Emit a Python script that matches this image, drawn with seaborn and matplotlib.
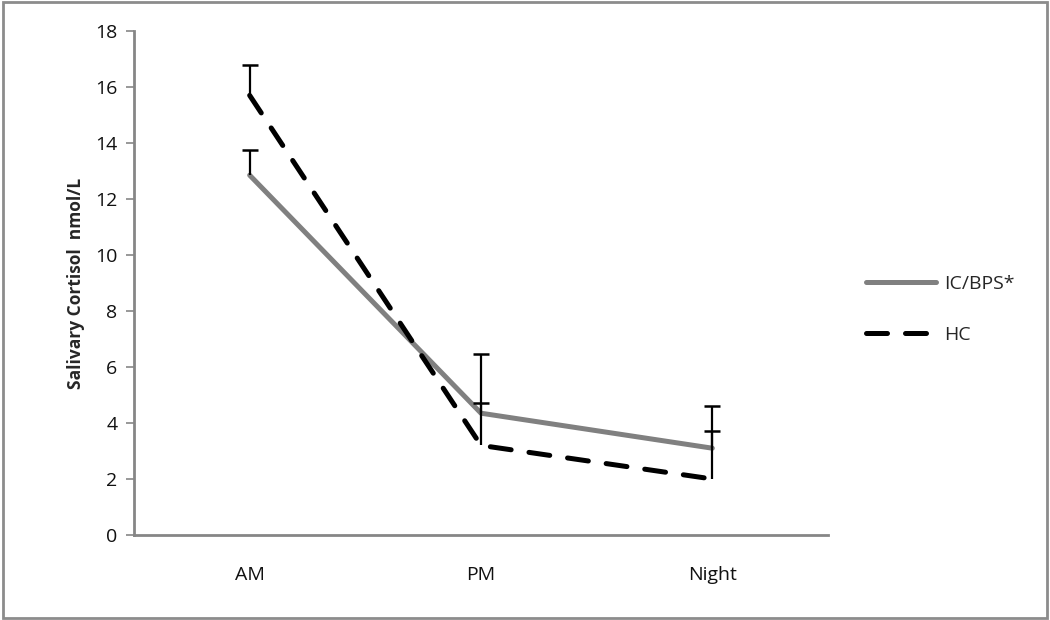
import numpy as np
import pandas as pd
import matplotlib.pyplot as plt
import seaborn as sns
from matplotlib.patches import Rectangle

# ------------------------------------------------------------
# Data
# ------------------------------------------------------------
times = ['AM', 'PM', 'Night']
ic_mean = [12.85, 4.35, 3.1]
ic_err = [0.9, 0.35, 0.6]
hc_mean = [15.7, 3.2, 2.0]
hc_err = [1.1, 3.25, 2.6]

sns.set_theme(style='white')
plt.rcParams['font.family'] = ['Open Sans', 'DejaVu Sans']

df = pd.DataFrame({
    'time': times * 2,
    'cortisol': ic_mean + hc_mean,
    'group': ['IC/BPS*'] * 3 + ['HC'] * 3,
})

fig = plt.figure(figsize=(10.5, 6.2), dpi=100)
ax = fig.add_axes([134 / 1050, 1 - 535 / 620, (828 - 134) / 1050, (535 - 31) / 620])

sns.lineplot(
    data=df, x='time', y='cortisol', hue='group', style='group',
    palette={'IC/BPS*': '#808080', 'HC': 'black'},
    dashes={'IC/BPS*': '', 'HC': (4.2, 3.6)},
    linewidth=3.6, ax=ax, sort=False,
)
for ln in ax.get_lines():
    ln.set_dash_capstyle('round')

# upper-only error bars (cap at the top only)
xpos = np.arange(len(times))
for mean, err in [(ic_mean, ic_err), (hc_mean, hc_err)]:
    top = np.array(mean) + np.array(err)
    ax.errorbar(xpos, mean, yerr=[np.zeros(len(err)), err], fmt='none',
                ecolor='black', elinewidth=1.6, capsize=0, zorder=5)
    ax.plot(xpos, top, ls='none', marker='_', ms=11, mew=1.8, color='black', zorder=5)

ax.set_xlim(-0.5, 2.5)
ax.set_ylim(0, 18)
ax.set_yticks(range(0, 19, 2))
ax.set_xlabel('')
ax.set_ylabel('Salivary Cortisol  nmol/L', fontsize=12.5, fontweight='bold', labelpad=7)
ax.tick_params(axis='y', length=6, width=1.2, color='#868686', labelsize=14,
               labelcolor='#111111', pad=6, left=True)
ax.tick_params(axis='x', length=0, labelsize=14, labelcolor='#111111', pad=22)

sns.despine(ax=ax)
for side in ['left', 'bottom']:
    ax.spines[side].set_color('#868686')
    ax.spines[side].set_linewidth(2)

leg = ax.legend(loc='center left', bbox_to_anchor=(1.03, 0.448), frameon=False,
                fontsize=14, handlelength=3.6, handletextpad=0.4, labelspacing=1.7, title=None)

# outer grey frame
fig.patches.append(Rectangle((0.003, 0.004), 0.994, 0.992, transform=fig.transFigure,
                             fill=False, edgecolor='#8c8c8c', linewidth=2))

fig.savefig('out.png', dpi=100)
